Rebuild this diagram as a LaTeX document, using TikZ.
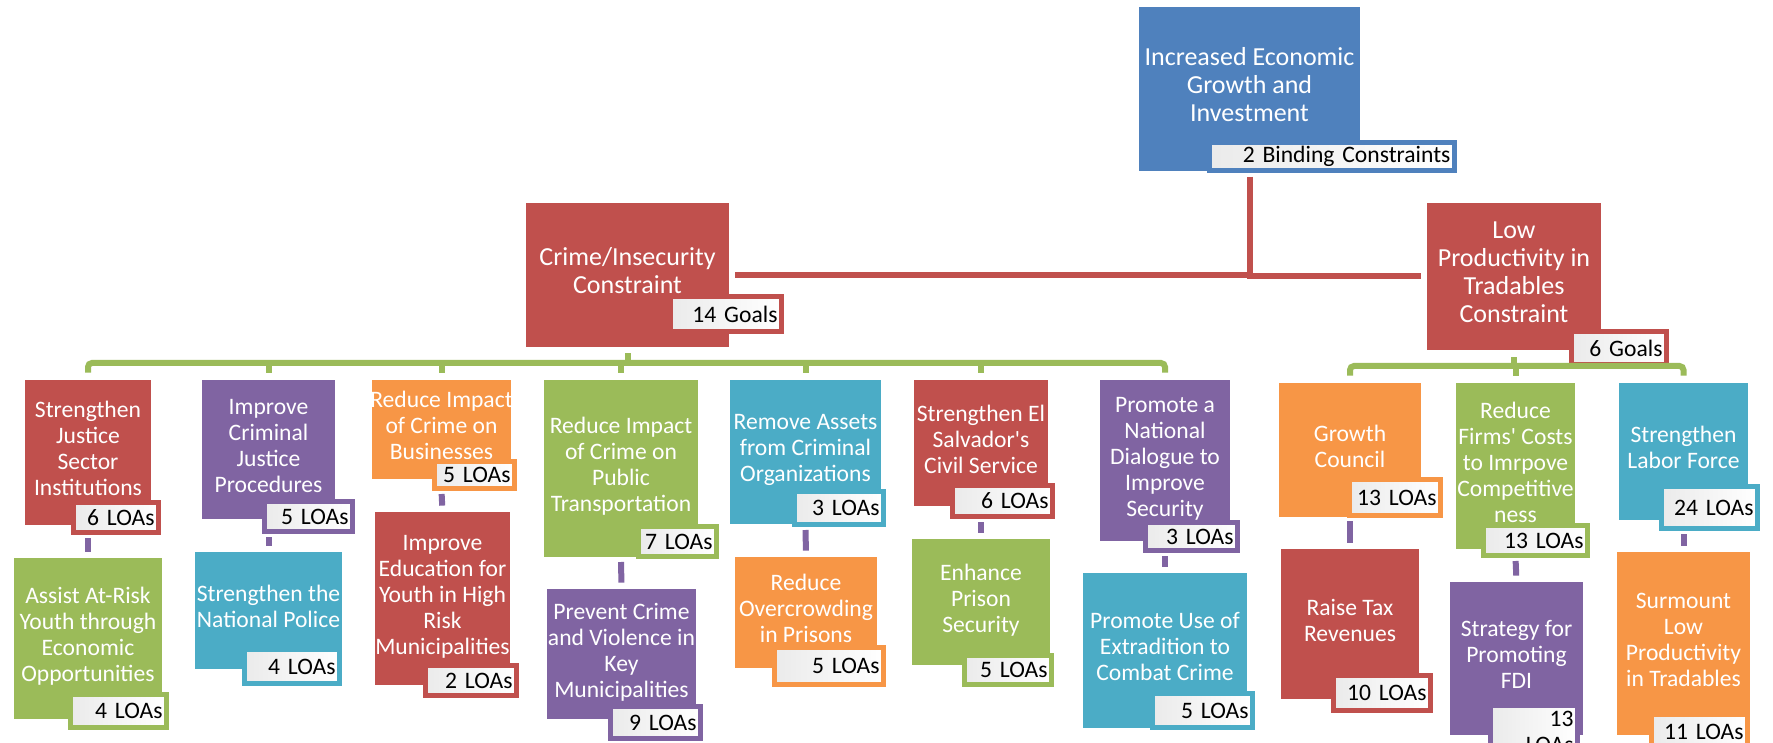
\documentclass[tikz,border=0pt]{standalone}
\usepackage{fontspec}
\setmainfont{Carlito}

\definecolor{cblue}{HTML}{4F81BD}
\definecolor{cred}{HTML}{C0504D}
\definecolor{cgreen}{HTML}{9BBB59}
\definecolor{cpurple}{HTML}{8064A2}
\definecolor{caqua}{HTML}{4BACC6}
\definecolor{corange}{HTML}{F79646}

\tikzset{
  boxat/.code args={#1/#2/#3/#4}{%
    \pgfmathsetmacro\gbwd{(#3-#1)*0.5}%
    \pgfmathsetmacro\gbht{(#4-#2)*0.5}%
    \pgfkeysalso{minimum width/.expanded=\gbwd pt, minimum height/.expanded=\gbht pt,
      at={({(#1+#3)/2},{(#2+#4)/2})}}},
  tabat/.code args={#1/#2/#3/#4}{%
    \pgfmathsetmacro\tbwd{(#3-#1-13)*0.5}%
    \pgfmathsetmacro\tbht{(#4-#2-5)*0.5}%
    \pgfkeysalso{text width/.expanded=\tbwd pt, minimum height/.expanded=\tbht pt,
      at={({(#1+#3)/2},{(#2+#4)/2})}}},
  goalbox/.style={inner xsep=-4pt, inner ysep=0pt, text=white, align=center,
    font=\fontsize{11.8}{13}\selectfont,
    execute at begin node=\strut, execute at end node=\strut},
  headbox/.style={goalbox, font=\fontsize{13}{14}\selectfont},
  loatab/.style={line width=2.5pt, left color=black!8, right color=white, text=black,
    align=right, inner xsep=2pt, inner ysep=0pt, font=\fontsize{11.8}{13}\selectfont},
  purplelink/.style={draw=cpurple, line width=3pt, shorten <=1.5pt, shorten >=3pt},
  greenbar/.style={draw=cgreen, line width=3pt},
  redtrunk/.style={draw=cred, line width=3pt, shorten <=2pt, shorten >=3pt}
}

\begin{document}
\begin{tikzpicture}[x=0.5pt,y=-0.5pt]
\path[use as bounding box, fill=white] (0,0) rectangle (1773,743);

% top and the two constraints
\node[headbox, fill=cblue, boxat=1139/7/1360/171] (growth) {Increased Economic\\Growth and\\Investment};
\node[loatab, draw=cblue, tabat=1207/140/1457/173] (growth-tab) {2 Binding Constraints};
\node[headbox, fill=cred, boxat=526/203/729/347] (crime) {Crime/Insecurity\\Constraint};
\node[loatab, draw=cred, tabat=668/294/784/334] (crime-tab) {14 Goals};
\node[headbox, fill=cred, boxat=1427/203/1601/350] (low) {Low\\Productivity in\\Tradables\\Constraint};
\node[loatab, draw=cred, tabat=1569/329/1669/367] (low-tab) {6 Goals};

% goals, upper row
\node[goalbox, fill=cred, boxat=25/380/151/525] (sj) {Strengthen\\Justice\\Sector\\Institutions};
\node[loatab, draw=cred, tabat=71/500/161/535] (sj-tab) {6 LOAs};
\node[goalbox, fill=cpurple, boxat=202/380/335/519] (icj) {Improve\\Criminal\\Justice\\Procedures};
\node[loatab, draw=cpurple, tabat=262/499/355/534] (icj-tab) {5 LOAs};
\node[goalbox, fill=corange, boxat=372/380/511/479] (rib) {Reduce Impact\\of Crime on\\Businesses};
\node[loatab, draw=corange, tabat=432/459/517/491] (rib-tab) {5 LOAs};
\node[goalbox, fill=cgreen, boxat=544/380/698/557] (rit) {Reduce Impact\\of Crime on\\Public\\Transportation};
\node[loatab, draw=cgreen, tabat=636/524/719/559] (rit-tab) {7 LOAs};
\node[goalbox, fill=caqua, boxat=730/380/881/524] (rac) {Remove Assets\\from Criminal\\Organizations};
\node[loatab, draw=caqua, tabat=792/489/886/527] (rac-tab) {3 LOAs};
\node[goalbox, fill=cred, boxat=914/380/1048/506] (sel) {Strengthen El\\Salvador\textquotesingle s\\Civil Service};
\node[loatab, draw=cred, tabat=950/483/1055/519] (sel-tab) {6 LOAs};
\node[goalbox, fill=cpurple, boxat=1100/380/1230/541] (pnd) {Promote a\\National\\Dialogue to\\Improve\\Security};
\node[loatab, draw=cpurple, tabat=1143/520/1240/553] (pnd-tab) {3 LOAs};
\node[goalbox, fill=corange, boxat=1279/383/1421/517] (gc) {Growth\\Council};
\node[loatab, draw=corange, tabat=1347/477/1443/518] (gc-tab) {13 LOAs};
\node[goalbox, fill=cgreen, boxat=1456/383/1575/549] (rfc) {Reduce\\Firms\textquotesingle\ Costs\\to Imrpove\\Competitive\\ness};
\node[loatab, draw=cgreen, tabat=1481/523/1590/558] (rfc-tab) {13 LOAs};
\node[goalbox, fill=caqua, boxat=1619/383/1748/520] (slf) {Strengthen\\Labor Force};
\node[loatab, draw=caqua, tabat=1659/484/1760/531] (slf-tab) {24 LOAs};

% goals, lower row
\node[goalbox, fill=cgreen, boxat=14/558/162/719] (arr) {Assist At-Risk\\Youth through\\Economic\\Opportunities};
\node[loatab, draw=cgreen, tabat=68/692/169/730] (arr-tab) {4 LOAs};
\node[goalbox, fill=caqua, boxat=195/552/342/669] (snp) {Strengthen the\\National Police};
\node[loatab, draw=caqua, tabat=242/647/342/686] (snp-tab) {4 LOAs};
\node[goalbox, fill=cred, boxat=375/512/510/685] (iey) {Improve\\Education for\\Youth in High\\Risk\\Municipalities};
\node[loatab, draw=cred, tabat=423/663/519/698] (iey-tab) {2 LOAs};
\node[goalbox, fill=cpurple, boxat=547/589/696/719] (pcv) {Prevent Crime\\and Violence in\\Key\\Municipalities};
\node[loatab, draw=cpurple, tabat=608/704/703/741] (pcv-tab) {9 LOAs};
\node[goalbox, fill=corange, boxat=735/557/877/668] (rop) {Reduce\\Overcrowding\\in Prisons};
\node[loatab, draw=corange, tabat=772/645/886/687] (rop-tab) {5 LOAs};
\node[goalbox, fill=cgreen, boxat=912/539/1050/665] (eps) {Enhance\\Prison\\Security};
\node[loatab, draw=cgreen, tabat=962/653/1054/687] (eps-tab) {5 LOAs};
\node[goalbox, fill=caqua, boxat=1083/573/1247/728] (pue) {Promote Use of\\Extradition to\\Combat Crime};
\node[loatab, draw=caqua, tabat=1150/691/1255/730] (pue-tab) {5 LOAs};
\node[goalbox, fill=cred, boxat=1281/549/1419/699] (rtr) {Raise Tax\\Revenues};
\node[loatab, draw=cred, tabat=1331/673/1433/713] (rtr-tab) {10 LOAs};
\node[goalbox, fill=cpurple, boxat=1450/582/1583/735] (spf) {Strategy for\\Promoting\\FDI};
\node[loatab, draw=cpurple, tabat=1488/703/1580/760] (spf-tab) {13\\LOAs};
\node[goalbox, fill=corange, boxat=1617/552/1750/735] (slp) {Surmount\\Low\\Productivity\\in Tradables};
\node[loatab, draw=corange, tabat=1649/712/1750/752] (slp-tab) {11 LOAs};

% red trunk
\draw[redtrunk] (growth.south |- growth-tab.south) |- (crime.east);
\draw[redtrunk] (growth.south |- growth-tab.south) |- (low.west);

% green bars
\coordinate (leftbar) at (600,363);
\coordinate (rightbar) at (1500,366);
\draw[greenbar, rounded corners=2pt, shorten <=3.5pt, shorten >=3.5pt] (sj.north) |- (leftbar) -| (pnd.north);
\foreach \goalA in {icj,rib,rit,rac,sel}
	\draw[greenbar, shorten >=3.5pt] (\goalA.north |- leftbar) -- (\goalA.north);
\draw[greenbar, shorten <=3pt] (crime.south) -- (crime.south |- leftbar);
\draw[greenbar, rounded corners=2pt, shorten <=3.5pt, shorten >=3.5pt] (gc.north) |- (rightbar) -| (slf.north);
\draw[greenbar, shorten >=3.5pt] (rfc.north |- rightbar) -- (rfc.north);
\draw[greenbar, shorten <=3.5pt] (low.south) -- (low.south |- rightbar);

% purple links between the rows
\foreach \goalA/\goalB in {sj/arr,icj/snp,rib/iey,rit/pcv,rac/rop,sel/eps,pnd/pue,gc/rtr,rfc/spf,slf/slp}
	\draw[purplelink] (\goalA.south |- \goalA-tab.south) -- (\goalB.north);

\end{tikzpicture}
\end{document}
